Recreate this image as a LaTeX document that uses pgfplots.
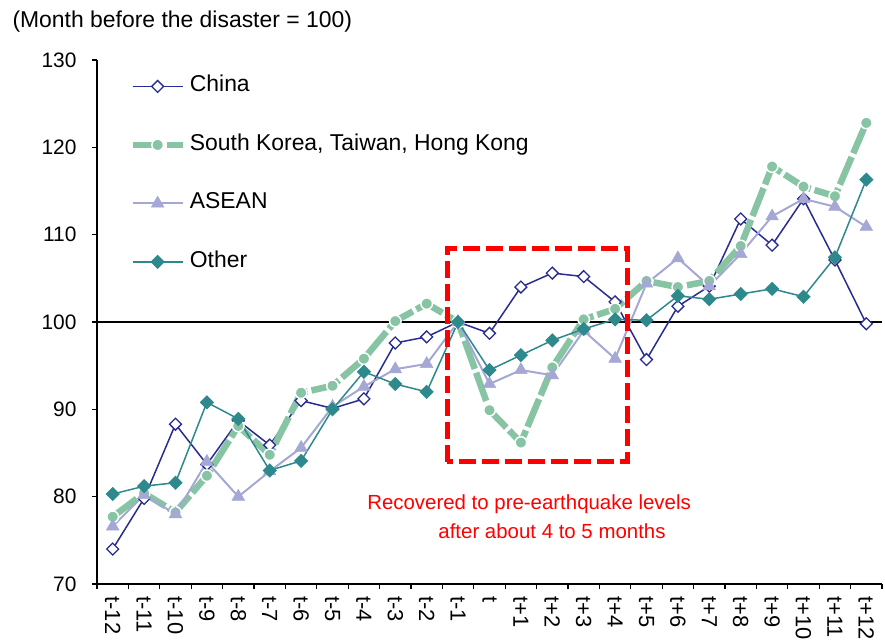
\documentclass[border=0pt]{standalone}
\usepackage{fontspec}
\setmainfont{Liberation Sans}
\usepackage{pgfplots}
\usepackage{pgfplotstable}
\pgfplotsset{compat=1.18}

\definecolor{cnavy}{RGB}{40,44,145}
\definecolor{skgreen}{RGB}{134,196,164}
\definecolor{aseanlav}{RGB}{165,168,213}
\definecolor{otherteal}{RGB}{46,137,140}

% Exports index, month before the disaster = 100
\pgfplotstableread{
idx china sk    asean other
0   74.0  77.7  76.6  80.3
1   79.8  80.4  80.2  81.2
2   88.3  78.2  78.0  81.6
3   83.7  82.4  84.0  90.8
4   88.7  88.1  80.0  88.9
5   85.9  84.8  82.9  83.0
6   91.0  91.9  85.6  84.1
7   90.1  92.7  90.3  90.0
8   91.2  95.8  92.6  94.3
9   97.6  100.1 94.6  92.9
10  98.3  102.1 95.2  92.0
11  100.0 100.0 100.0 100.0
12  98.7  89.9  92.9  94.5
13  104.0 86.2  94.5  96.2
14  105.6 94.8  93.9  97.9
15  105.2 100.3 99.0  99.2
16  102.3 101.5 95.8  100.3
17  95.7  104.7 104.4 100.2
18  101.8 104.0 107.3 103.0
19  104.1 104.7 104.1 102.6
20  111.8 108.7 107.8 103.2
21  108.8 117.8 112.1 103.8
22  114.1 115.5 114.1 102.9
23  107.1 114.4 113.2 107.4
24  99.8  122.8 110.9 116.3
}\exportdata

\begin{document}
\begin{tikzpicture}
\begin{axis}[
  scale only axis,
  width=785bp, height=524bp,
  xmin=-0.5, xmax=24.5,
  ymin=70, ymax=130,
  clip=false,
  axis lines*=left,
  axis line style={black, line width=1.3bp},
  tick style={black, line width=1.3bp},
  tick align=outside,
  major tick length=5bp,
  ytick={70,80,...,130},
  xtick={-0.5,0.5,...,24.5},
  x tick label as interval,
  xticklabels={t-12,t-11,t-10,t-9,t-8,t-7,t-6,t-5,t-4,t-3,t-2,t-1,t,
               t+1,t+2,t+3,t+4,t+5,t+6,t+7,t+8,t+9,t+10,t+11,t+12},
  xticklabel style={yshift=-4bp, rotate=-90, anchor=west, font=\fontsize{22}{25}\selectfont},
  yticklabel style={font=\fontsize{21}{24}\selectfont, xshift=-12bp},
  /pgf/number format/assume math mode=true,
  legend cell align=left,
  legend image code/.code={%
    \draw[mark repeat=2,mark phase=2,#1]
      plot coordinates {(0bp,0bp) (25bp,0bp) (50bp,0bp)};},
  legend style={
    at={(rel axis cs:0.041,0.970)}, anchor=north west,
    draw=none, fill=none, inner sep=0pt,
    font=\fontsize{23}{27}\selectfont,
    row sep=37.5bp,
    nodes={inner sep=0pt, text height=16bp, text depth=5bp},
    /tikz/every odd column/.append style={column sep=4bp},
  },
]
% reference level
\addplot[black, line width=1.2bp, forget plot] coordinates {(-0.5,100) (24.5,100)};

\addplot[cnavy, line width=1.5bp, mark=square*, mark size=4.2bp,
  mark options={rotate=45, fill=white, draw=cnavy, line width=1.3bp}]
  table[x=idx, y=china] {\exportdata};
\addlegendentry{China}

\addplot[skgreen, line width=6.5bp, dash pattern=on 30bp off 4bp,
  mark=*, mark size=5.8bp,
  mark options={solid, fill=skgreen, draw=white, line width=1.5bp}]
  table[x=idx, y=sk] {\exportdata};
\addlegendentry{South Korea, Taiwan, Hong Kong}

\addplot[aseanlav, line width=2bp, mark=triangle*, mark size=7.3bp,
  mark options={fill=aseanlav, draw=aseanlav, line width=0.5bp}]
  table[x=idx, y=asean] {\exportdata};
\addlegendentry{ASEAN}

\addplot[otherteal, line width=1.5bp, mark=square*, mark size=4.3bp,
  mark options={rotate=45, fill=otherteal, draw=otherteal}]
  table[x=idx, y=other] {\exportdata};
\addlegendentry{Other}

% recovery window
\draw[red, line width=5bp, dash pattern=on 17bp off 6bp]
  (axis cs:10.65,83.97) rectangle (axis cs:16.38,108.47);
\node[red, font=\fontsize{20.5}{24}\selectfont] at (axis cs:13.26,79.15)
  {Recovered to pre-earthquake levels};
\node[red, font=\fontsize{20.5}{24}\selectfont] at (axis cs:13.99,76.0)
  {after about 4 to 5 months};

\node[anchor=west, xshift=-88bp, yshift=38bp, font=\fontsize{23}{27}\selectfont]
  at (rel axis cs:0,1) {(Month before the disaster = 100)};

\coordinate (bl) at (rel axis cs:0,0);
\coordinate (tr) at (rel axis cs:1,1);
\end{axis}
\path (bl) ++(-97bp,-60bp);
\path (tr) ++(3bp,60bp);
\end{tikzpicture}
\end{document}
